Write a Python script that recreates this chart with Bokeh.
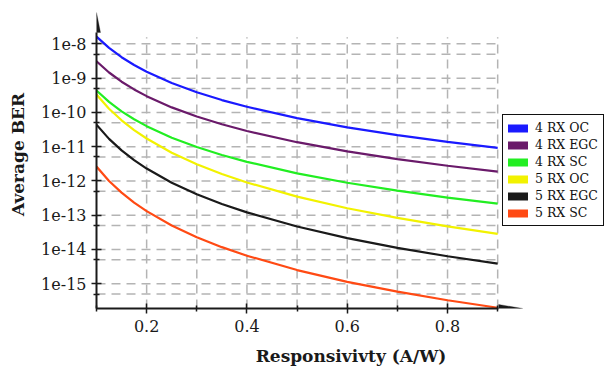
from bokeh.plotting import figure
from bokeh.models import Range1d, FixedTicker, Legend, LegendItem, PolyAnnotation
from bokeh.embed import file_html
from bokeh.resources import INLINE

# ---- data ----
resp = [0.1, 0.125, 0.15, 0.175, 0.2, 0.25, 0.3, 0.35, 0.4, 0.5, 0.6, 0.7, 0.8, 0.9]

ber_4rx_oc = [1.62e-8, 7.6e-9, 4.08e-9, 2.42e-9, 1.54e-9, 7.2e-10, 3.87e-10, 2.29e-10,
              1.46e-10, 6.8e-11, 3.66e-11, 2.17e-11, 1.38e-11, 9.2e-12]
ber_4rx_egc = [3.09e-9, 1.46e-9, 7.87e-10, 4.68e-10, 2.98e-10, 1.40e-10, 7.59e-11, 4.51e-11,
               2.87e-11, 1.35e-11, 7.31e-12, 4.35e-12, 2.77e-12, 1.86e-12]
ber_4rx_sc = [4.37e-10, 2.02e-10, 1.07e-10, 6.30e-11, 3.97e-11, 1.83e-11, 9.75e-12, 5.71e-12,
              3.61e-12, 1.66e-12, 8.85e-13, 5.20e-13, 3.27e-13, 2.18e-13]
ber_5rx_oc = [3.31e-10, 1.28e-10, 5.89e-11, 3.05e-11, 1.73e-11, 6.68e-12, 3.08e-12, 1.59e-12,
              9.02e-13, 3.48e-13, 1.60e-13, 8.32e-14, 4.71e-14, 2.85e-14]
ber_5rx_egc = [4.37e-11, 1.69e-11, 7.80e-12, 4.05e-12, 2.30e-12, 8.89e-13, 4.09e-13, 2.13e-13,
               1.21e-13, 4.67e-14, 2.15e-14, 1.12e-14, 6.34e-15, 3.85e-15]
ber_5rx_sc = [2.63e-12, 1.00e-12, 4.56e-13, 2.34e-13, 1.32e-13, 5.02e-14, 2.29e-14, 1.17e-14,
              6.59e-15, 2.51e-15, 1.14e-15, 5.87e-16, 3.30e-16, 1.99e-16]

series_names = ["4 RX OC", "4 RX EGC", "4 RX SC", "5 RX OC", "5 RX EGC", "5 RX SC"]
series_values = [ber_4rx_oc, ber_4rx_egc, ber_4rx_sc, ber_5rx_oc, ber_5rx_egc, ber_5rx_sc]
series_colors = ["#1a1aff", "#6a1a6a", "#22ee22", "#f2f200", "#1a1a1a", "#ff4a14"]

y_ticks = [1e-15, 1e-14, 1e-13, 1e-12, 1e-11, 1e-10, 1e-9, 1e-8]
y_tick_labels = ["1e-15", "1e-14", "1e-13", "1e-12", "1e-11", "1e-10", "1e-9", "1e-8"]
y_minor_ticks = [5e-16, 5e-15, 5e-14, 5e-13, 5e-12, 5e-11, 5e-10, 5e-9]
x_ticks = [0.2, 0.4, 0.6, 0.8]
x_tick_labels = ["0.2", "0.4", "0.6", "0.8"]
x_minor_ticks = [0.1, 0.3, 0.5, 0.7, 0.9]
x_grid = [0.2, 0.3, 0.4, 0.5, 0.6, 0.7, 0.8, 0.9]

# ---- layout constants ----
X_LO, X_HI = 0.1, 1.115
Y_LO, Y_HI = 10 ** -15.722, 10 ** -6.735
GRID_X_END = 0.9
GRID_Y_TOP = 10 ** -7.81
X_AXIS_END = 0.902
X_ARROW_TIP = 0.95
Y_AXIS_END = 10 ** -7.67
Y_ARROW_TIP = 10 ** -7.086
HALF_W_X = 0.008          # arrow half-width in x data units (~4px)
HALF_W_LOGF = 10 ** (4 / 34.24)  # ~4px in log-y

SERIF = "DejaVu Serif"
AXIS_COLOR = "#1a1a1a"

p = figure(width=605, height=371, x_range=Range1d(X_LO, X_HI), y_range=Range1d(Y_LO, Y_HI),
           y_axis_type="log", output_backend="svg", toolbar_location=None,
           min_border_left=96, min_border_right=0, min_border_top=0, min_border_bottom=63)
p.outline_line_color = None
p.xgrid.visible = False
p.ygrid.visible = False
p.background_fill_color = "white"
p.border_fill_color = "white"

# grid (dashed, bounded to the data area)
h_levels = sorted(y_ticks + y_minor_ticks)
p.segment(x0=[X_LO] * len(h_levels), x1=[GRID_X_END] * len(h_levels), y0=h_levels, y1=h_levels,
          line_color="#b4b4b4", line_width=1.5, line_dash="9 6")
p.segment(x0=x_grid, x1=x_grid, y0=[Y_LO] * len(x_grid), y1=[GRID_Y_TOP] * len(x_grid),
          line_color="#b4b4b4", line_width=1.5, line_dash="9 6")

# curves
for vals, color in zip(series_values, series_colors):
    p.line(resp, vals, line_color=color, line_width=2.2)

# legend with blob-like swatches (swatch-only renderers, nothing drawn in the frame)
items = []
for name, color in zip(series_names, series_colors):
    r = p.line(x=[float("nan")], y=[float("nan")], line_color=color, line_width=8, line_cap="round")
    items.append(LegendItem(label=name, renderers=[r]))
legend = Legend(items=items, location=(406, 82), padding=5, margin=0, spacing=2,
                label_height=14, glyph_height=14, glyph_width=20, label_standoff=7,
                label_text_font=SERIF, label_text_font_size="12.5px", label_text_color="#111111",
                border_line_color="#111111", border_line_width=1.5, border_line_alpha=1.0,
                background_fill_color="white", background_fill_alpha=1.0)
p.add_layout(legend, "center")

# axes
xa = p.xaxis[0]
ya = p.yaxis[0]
xa.ticker = FixedTicker(ticks=x_ticks, minor_ticks=x_minor_ticks)
ya.ticker = FixedTicker(ticks=y_ticks, minor_ticks=y_minor_ticks)
xa.major_label_overrides = dict(zip(x_ticks, x_tick_labels))
ya.major_label_overrides = dict(zip(y_ticks, y_tick_labels))
xa.bounds = (X_LO, X_AXIS_END)
ya.bounds = (Y_LO, Y_AXIS_END)
for ax in (xa, ya):
    ax.axis_line_color = AXIS_COLOR
    ax.axis_line_width = 2
    ax.major_tick_line_color = AXIS_COLOR
    ax.major_tick_line_width = 1.5
    ax.minor_tick_line_color = AXIS_COLOR
    ax.minor_tick_line_width = 1.5
    ax.major_tick_in = 5
    ax.major_tick_out = 5
    ax.minor_tick_in = 3
    ax.minor_tick_out = 3
    ax.major_label_text_font = SERIF
    ax.major_label_text_font_size = "16px"
    ax.major_label_text_color = "#1a1a1a"
    ax.axis_label_text_font = SERIF
    ax.axis_label_text_font_style = "bold"
    ax.axis_label_text_font_size = "17px"
    ax.axis_label_text_color = "#1a1a1a"
xa.major_label_standoff = 6
ya.major_label_standoff = 5
xa.axis_label = "Responsivivty (A/W)"
ya.axis_label = "Average BER"
xa.axis_label_standoff = 11
ya.axis_label_standoff = 10

# arrow heads at the axis ends
p.add_layout(PolyAnnotation(xs=[X_AXIS_END, X_AXIS_END, X_ARROW_TIP],
                            ys=[Y_LO * HALF_W_LOGF, Y_LO / HALF_W_LOGF, Y_LO],
                            fill_color=AXIS_COLOR, fill_alpha=1.0, line_color=AXIS_COLOR, line_width=1))
p.add_layout(PolyAnnotation(xs=[X_LO - HALF_W_X, X_LO + HALF_W_X, X_LO],
                            ys=[Y_AXIS_END, Y_AXIS_END, Y_ARROW_TIP],
                            fill_color=AXIS_COLOR, fill_alpha=1.0, line_color=AXIS_COLOR, line_width=1))

open("out.html", "w").write(file_html(p, INLINE))
